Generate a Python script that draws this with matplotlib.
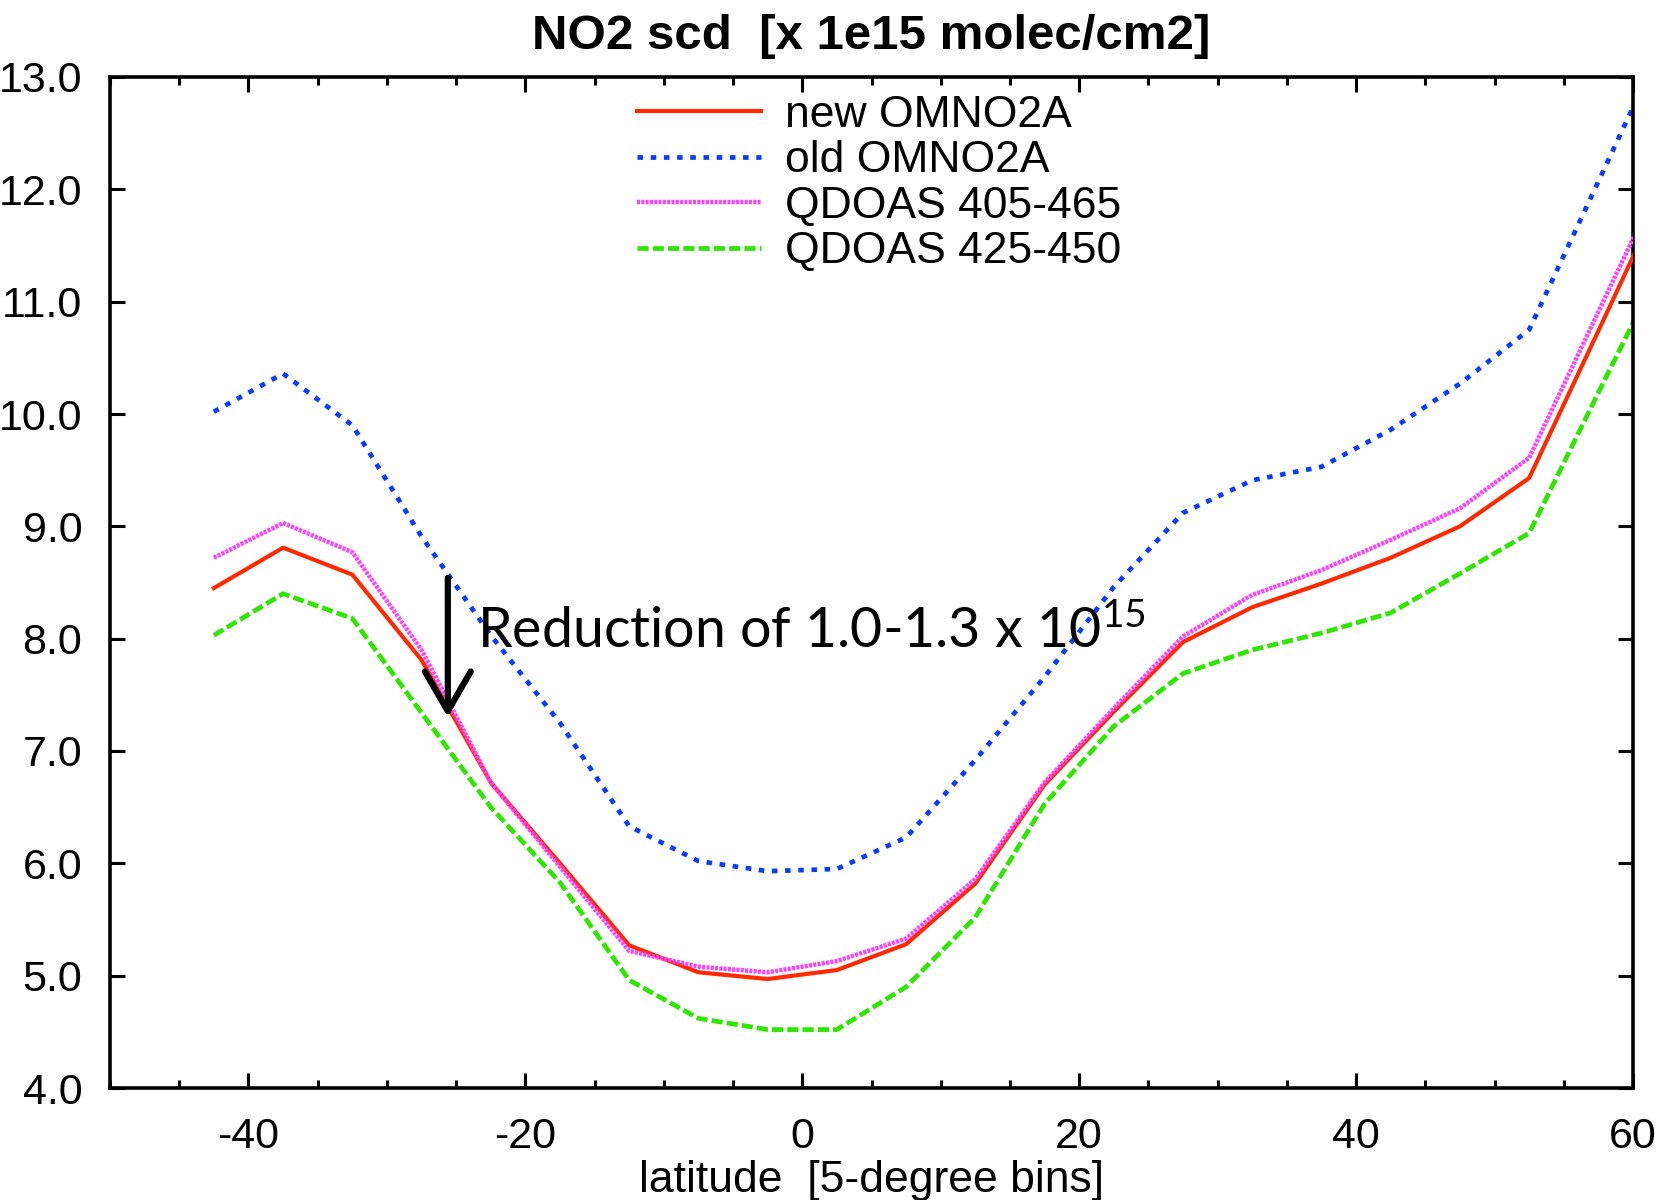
import matplotlib
matplotlib.use("Agg")
import matplotlib.pyplot as plt
from matplotlib.ticker import FixedLocator, MultipleLocator, FormatStrFormatter

# 5-degree latitude bins (last bin runs past the right edge and is clipped)
lat = [-42.5, -37.5, -32.5, -27.5, -22.5, -17.5, -12.5, -7.5, -2.5, 2.5, 7.5,
       12.5, 17.5, 22.5, 27.5, 32.5, 37.5, 42.5, 47.5, 52.5, 57.5, 62.5]

new_omno2a = [8.45, 8.81, 8.57, 7.81, 6.72, 6.00, 5.27, 5.03, 4.97, 5.05, 5.28,
              5.82, 6.70, 7.35, 7.97, 8.28, 8.49, 8.72, 9.00, 9.43, 10.74, 12.06]
old_omno2a = [10.02, 10.36, 9.90, 8.91, 8.03, 7.25, 6.33, 6.02, 5.93, 5.95, 6.23,
              6.92, 7.66, 8.46, 9.12, 9.41, 9.53, 9.86, 10.27, 10.75, 12.07, 13.39]
qdoas_405_465 = [8.72, 9.03, 8.77, 7.90, 6.72, 5.97, 5.22, 5.08, 5.03, 5.13, 5.33,
                 5.86, 6.72, 7.38, 8.02, 8.39, 8.61, 8.88, 9.16, 9.61, 10.91, 12.21]
qdoas_425_450 = [8.03, 8.40, 8.18, 7.34, 6.50, 5.83, 4.96, 4.62, 4.52, 4.52, 4.90,
                 5.52, 6.53, 7.22, 7.69, 7.90, 8.05, 8.23, 8.58, 8.94, 10.19, 11.43]

labels = ["new OMNO2A", "old OMNO2A", "QDOAS 405-465", "QDOAS 425-450"]
x_major = [-40, -20, 0, 20, 40, 60]

plt.rcParams["font.family"] = ["Liberation Sans", "DejaVu Sans"]
plt.rcParams["axes.unicode_minus"] = False
plt.rcParams["lines.scale_dashes"] = False
plt.rcParams["mathtext.fontset"] = "custom"
plt.rcParams["mathtext.rm"] = "Lato"
plt.rcParams["mathtext.it"] = "Lato"
plt.rcParams["mathtext.default"] = "rm"

fig = plt.figure(figsize=(16.7, 12), dpi=100)
ax = fig.add_axes([110 / 1670, 1 - 1088 / 1200, (1633 - 110) / 1670, (1088 - 77) / 1200])

ax.plot(lat, new_omno2a, color="#ff2a00", lw=3.0, label=labels[0], zorder=3)
ax.plot(lat, old_omno2a, color="#0a3cff", lw=3.4, dashes=(4.0, 5.5), label=labels[1], zorder=2)
ax.plot(lat, qdoas_405_465, color="#ff40ff", lw=3.2, dashes=(2.2, 0.9), label=labels[2], zorder=4)
ax.plot(lat, qdoas_425_450, color="#2ee600", lw=3.4, dashes=(8.0, 3.0), label=labels[3], zorder=2)

ax.set_xlim(-50, 60)
ax.set_ylim(4, 13)
ax.xaxis.set_major_locator(FixedLocator(x_major))
ax.xaxis.set_minor_locator(MultipleLocator(5))
ax.yaxis.set_major_locator(MultipleLocator(1))
ax.yaxis.set_major_formatter(FormatStrFormatter("%.1f"))

for side in ax.spines.values():
    side.set_linewidth(2.6)
ax.tick_params(which="both", direction="in", top=True, right=True, width=2.2,
               labelsize=31)
ax.tick_params(which="major", length=11)
ax.tick_params(which="minor", length=6)
ax.tick_params(axis="x", pad=21)
ax.tick_params(axis="y", pad=20)

ax.set_title("NO2 scd  [x 1e15 molec/cm2]", fontsize=35.5, fontweight="bold", pad=20)
ax.set_xlabel("latitude  [5-degree bins]", fontsize=32, labelpad=2)

leg = ax.legend(loc="upper left", bbox_to_anchor=(637 / 1670, 1 - 95 / 1200),
                bbox_transform=fig.transFigure, frameon=False, fontsize=32,
                handlelength=2.78, handletextpad=0.55, labelspacing=0.1,
                borderpad=0, borderaxespad=0)

ax.annotate("", xy=(-25.6, 7.30), xytext=(-25.6, 8.54),
            arrowprops=dict(arrowstyle="->,head_length=0.95,head_width=0.55",
                            lw=4.5, color="black", mutation_scale=30,
                            shrinkA=0, shrinkB=0), zorder=6)
ax.text(-23.5, 7.92, r"Reduction of 1.0-1.3 x 10$^{15}$", fontsize=40,
        family="Lato", va="baseline", ha="left", zorder=6)

fig.savefig("out.png", dpi=100)
